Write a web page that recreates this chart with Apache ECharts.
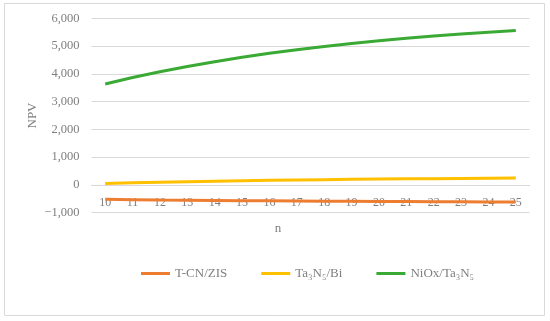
<!DOCTYPE html>
<html>
<head>
<meta charset="utf-8">
<script src="https://cdn.jsdelivr.net/npm/echarts@6/dist/echarts.min.js"></script>
<style>html,body{margin:0;padding:0;background:#fff}#c{width:550px;height:321px}</style>
</head>
<body>
<div id="c"></div>
<script>
var categories = ['10','11','12','13','14','15','16','17','18','19','20','21','22','23','24','25'];
var tcnZis = [-519,-530,-541,-550,-559,-567,-574,-581,-587,-592,-597,-601,-605,-609,-612,-616];
var ta3n5Bi = [55,78,99,118,135,150,165,177,189,200,209,218,226,233,240,246];
var niox = [3636,3866,4076,4266,4439,4596,4739,4869,4987,5095,5192,5281,5362,5435,5502,5563];
var seriesNames = ['T-CN/ZIS','Ta\u2083N\u2085/Bi','NiOx/Ta\u2083N\u2085'];
var yTicks = {min: -1000, max: 6000, step: 1000};

var font = 'Liberation Serif';
var gray = '#7f7f7f';
var chart = echarts.init(document.getElementById('c'));
var gridTop = 18.3, gridBottom = 108.3, plotH = 321 - gridTop - gridBottom;
var zeroOffset = plotH * (0 - yTicks.min) / (yTicks.max - yTicks.min);
function mk(name, data, color) {
  return {name: name, type: 'line', data: data, symbol: 'none', smooth: false,
    lineStyle: {color: color, width: 3}, itemStyle: {color: color}};
}
chart.setOption({
  animation: false,
  backgroundColor: '#fff',
  graphic: [{type: 'rect', shape: {x: 4.5, y: 3.5, width: 540, height: 312},
    style: {fill: 'none', stroke: '#d9d9d9', lineWidth: 1}, silent: true}],
  grid: {left: 91.5, right: 20.5, top: gridTop, bottom: gridBottom, containLabel: false},
  legend: {
    bottom: 36, left: 136, itemWidth: 29, itemHeight: 12, itemGap: 34,
    data: seriesNames.map(function(n){return {name:n, icon:'path://M0,0L29,0L29,3L0,3Z'};}),
    textStyle: {fontFamily: font, fontSize: 13, color: gray}
  },
  xAxis: {
    type: 'category', data: categories, boundaryGap: true,
    offset: -zeroOffset,
    name: 'n', nameLocation: 'middle', nameGap: 37,
    nameTextStyle: {fontFamily: font, fontSize: 13, color: gray, padding: [0, 65, 0, 0]},
    axisLine: {onZero: false, lineStyle: {color: '#d9d9d9', width: 1}},
    axisTick: {show: false},
    axisLabel: {fontFamily: font, fontSize: 12, color: gray, margin: 12}
  },
  yAxis: {
    type: 'value', min: yTicks.min, max: yTicks.max, interval: yTicks.step,
    name: 'NPV', nameLocation: 'middle', nameGap: 59, nameMoveOverlap: false,
    nameTextStyle: {fontFamily: font, fontSize: 13, color: gray, verticalAlign: 'middle'},
    axisLine: {show: false}, axisTick: {show: false},
    splitLine: {lineStyle: {color: '#d9d9d9', width: 1}},
    axisLabel: {fontFamily: font, fontSize: 12.5, color: gray, margin: 12,
      formatter: function(v){ var s = Math.abs(v).toLocaleString('en-US'); return v < 0 ? '\u2212' + s : s; }}
  },
  series: [
    mk(seriesNames[0], tcnZis, '#ED7D31'),
    mk(seriesNames[1], ta3n5Bi, '#FFC000'),
    mk(seriesNames[2], niox, '#3AAA35')
  ]
});
</script>
</body>
</html>
